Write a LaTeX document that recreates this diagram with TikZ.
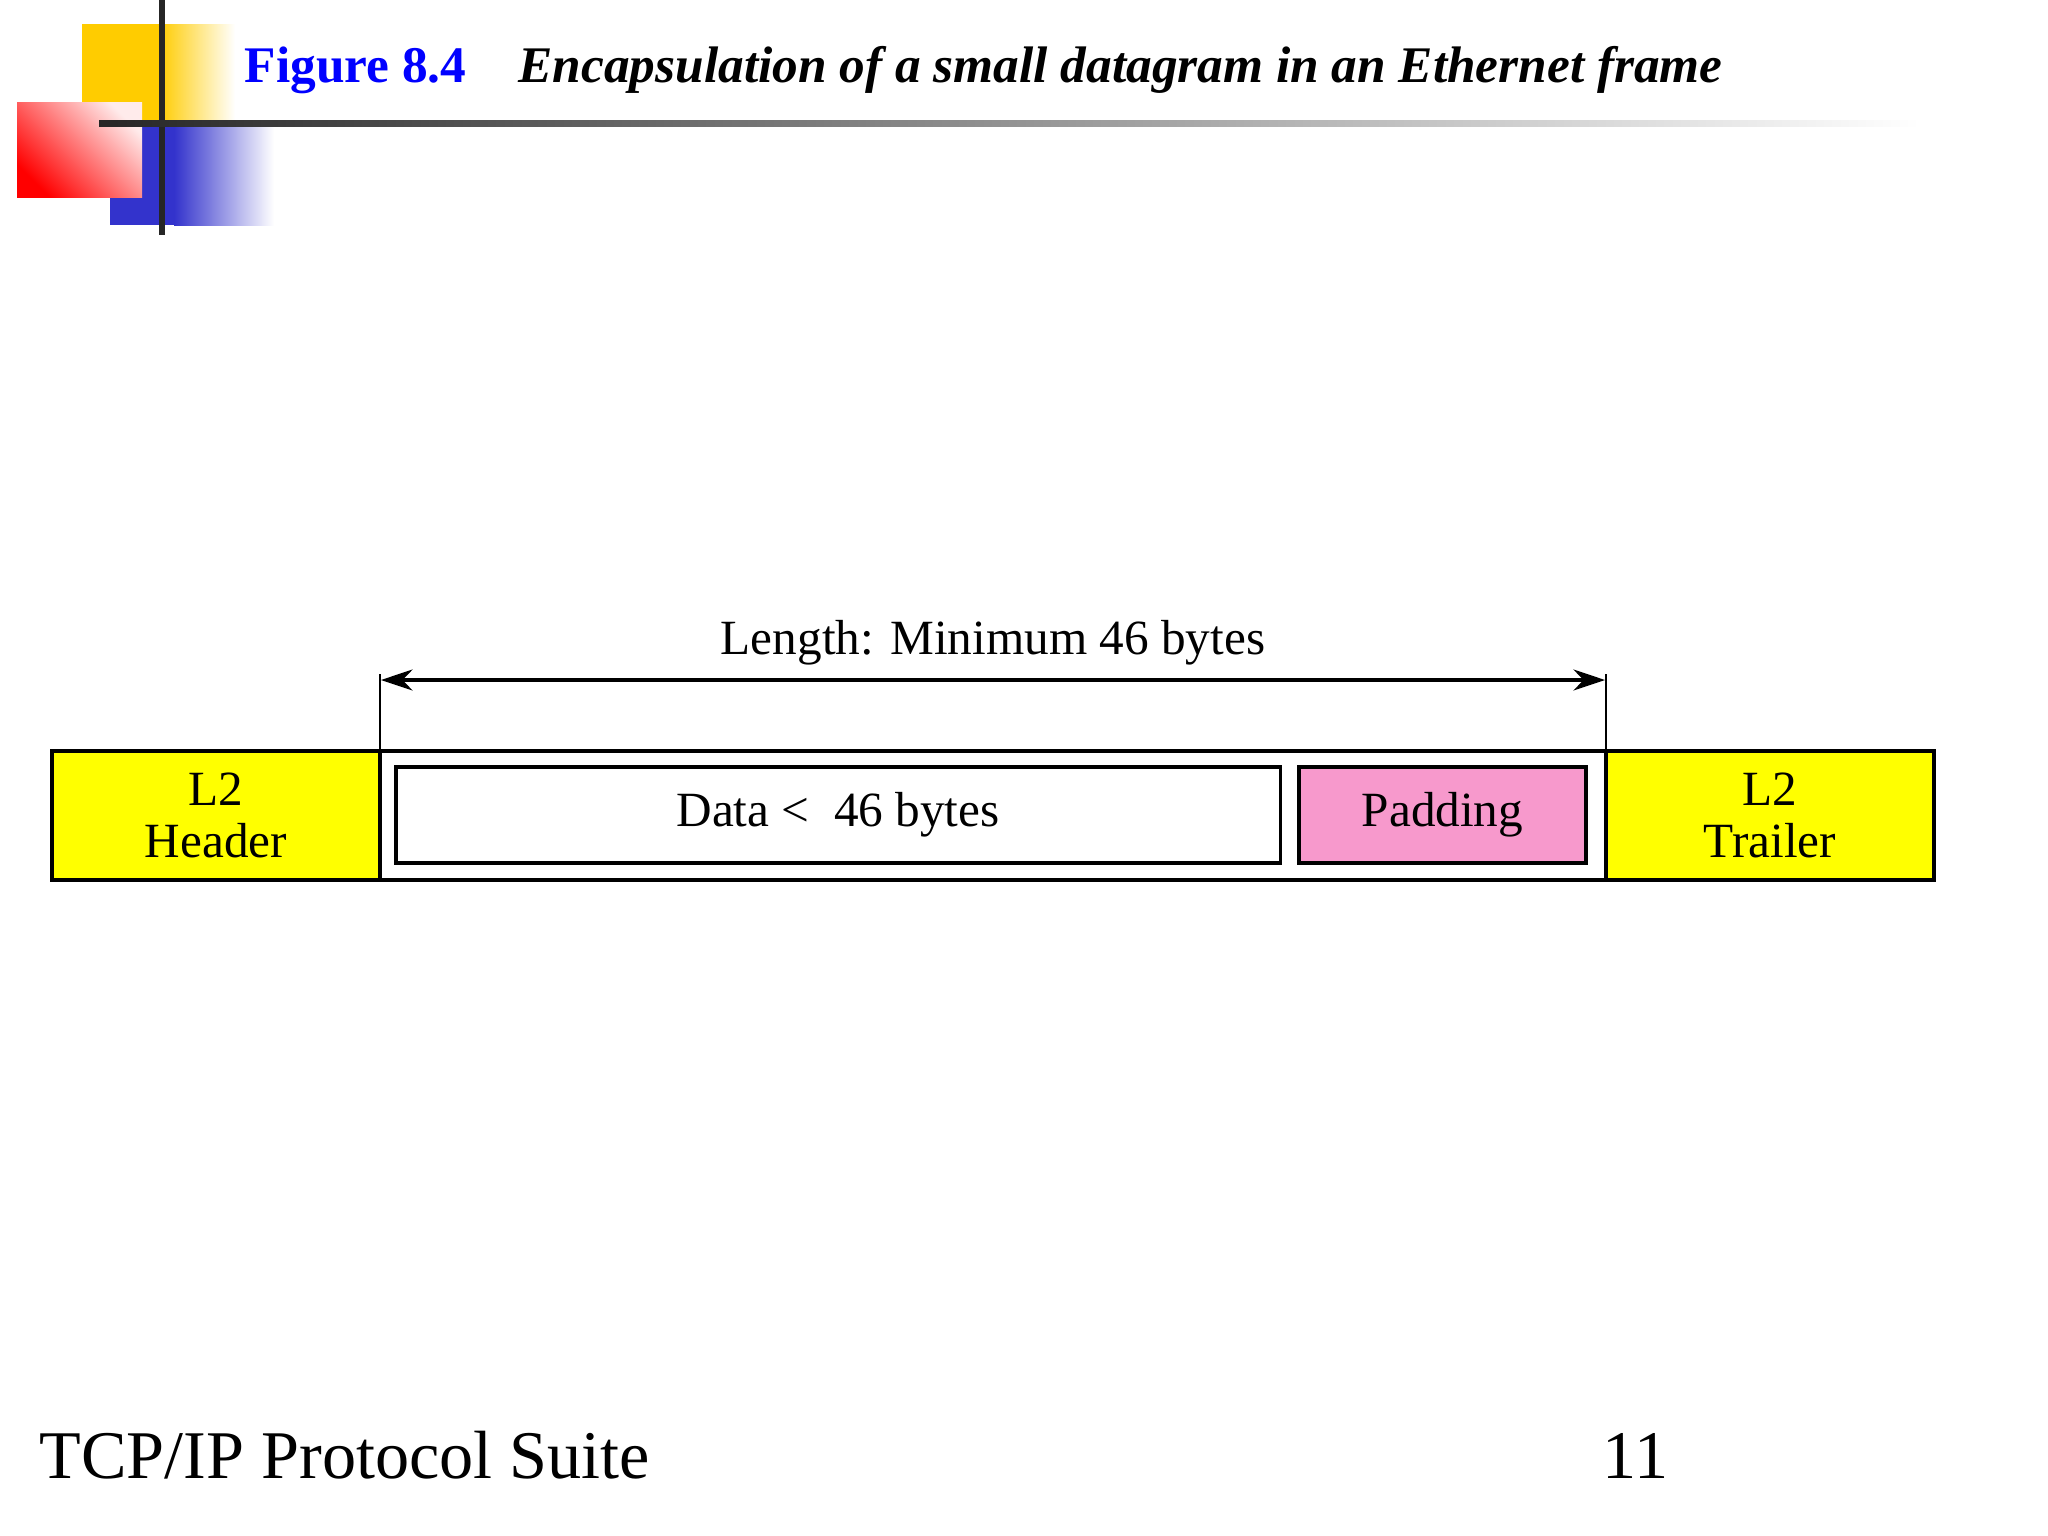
\documentclass[tikz,border=0pt]{standalone}
\usepackage{fontspec}
\setmainfont{Liberation Serif}
\usetikzlibrary{arrows.meta}
\definecolor{hdryellow}{HTML}{FFFF00}
\definecolor{padpink}{HTML}{F799CC}
\definecolor{decoyellow}{HTML}{FFCC00}
\definecolor{decored}{HTML}{FF0000}
\definecolor{decoblue}{HTML}{3333CC}
\definecolor{titleblue}{HTML}{0000FF}

\begin{document}
\begin{tikzpicture}[x=0.01cm,y=-0.01cm,
    field/.style={draw,line width=1.1pt,minimum height=1.29cm,inner sep=0pt,align=center,
      font=\fontsize{14}{15}\selectfont},
    inbox/.style={draw,line width=1pt,minimum height=0.96cm,inner sep=0pt,
      text height=0.7em,text depth=0.05em,font=\fontsize{14}{15}\selectfont},
    txt/.style={inner sep=0pt,anchor=base west}]
  \useasboundingbox[fill=white] (0,0) rectangle (2048,1536);
  % slide decoration
  \fill[decoyellow] (82,24) rectangle (160,124);
  \shade[left color=decoyellow,right color=white] (159,24) rectangle (235,124);
  \fill[decoblue] (110,124) rectangle (175,225);
  \shade[left color=decoblue,right color=white] (174,124) rectangle (274,225);
  \shade[bottom color=decored,top color=decored!8,shading angle=-45]
    (17,102) rectangle (142,197);
  \fill[black!85] (159,0) rectangle (165,235);
  \shade[left color=black!85,middle color=black!70,right color=white] (99,120) rectangle (1920,126);
  % title
  \node[txt,text=titleblue,font=\fontsize{14.6}{16}\selectfont\bfseries] (fig) at (244,82) {Figure 8.4};
  \node[txt,font=\fontsize{14.6}{16}\selectfont\bfseries\itshape] (cap) at (518,82)
    {Encapsulation of a small datagram in an Ethernet frame};
  % frame
  \node[field,fill=hdryellow,minimum width=3.28cm] (hdr) at (216,815.5) {L2\\Header};
  \node[field,minimum width=12.26cm] (frame) at (993,815.5) {};
  \node[field,fill=hdryellow,minimum width=3.28cm] (trl) at (1770,815.5) {L2\\Trailer};
  \node[inbox,minimum width=8.84cm] (data) at (838,815) {Data <\ \ 46 bytes};
  \node[inbox,fill=padpink,minimum width=2.87cm] (pad) at (1442.5,815) {Padding};
  % length arrow
  \coordinate (ltop) at (380,674);
  \coordinate (rtop) at (1606,674);
  \coordinate (ltip) at (381,680);
  \coordinate (rtip) at (1605,680);
  \draw[line width=0.6pt] (ltop) -- (ltop |- frame.north);
  \draw[line width=0.6pt] (rtop) -- (rtop |- frame.north);
  \draw[{Stealth[length=9pt,width=6pt]}-{Stealth[length=9pt,width=6pt]},line width=0.9pt] (ltip) -- (rtip);
  \node[font=\fontsize{14}{15}\selectfont] (len) at (993,643) {Length: Minimum 46 bytes};
  % footer
  \node[txt,font=\fontsize{19.4}{23}\selectfont] (suite) at (39,1478) {TCP/IP Protocol Suite};
  \node[txt,font=\fontsize{19.4}{23}\selectfont] (page) at (1602,1478) {11};
\end{tikzpicture}
\end{document}
